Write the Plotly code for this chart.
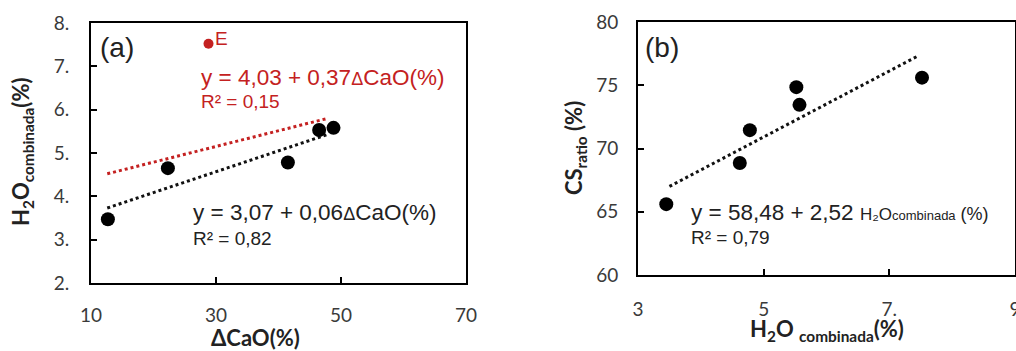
import plotly.graph_objects as go

# ---- data panel (a)
dcao = [12.7, 22.3, 41.5, 46.5, 48.8]
h2o_a = [3.47, 4.65, 4.78, 5.53, 5.58]
dcao_E = [28.8]
h2o_E = [7.52]
fit_black_x = [12.6, 47.9]
fit_black_y = [3.73, 5.43]
fit_red_x = [12.6, 47.9]
fit_red_y = [4.52, 5.80]
xa_ticks = [10, 30, 50, 70]
ya_ticks = [2, 3, 4, 5, 6, 7, 8]
ya_ticktext = ["2.", "3.", "4.", "5.", "6.", "7.", "8."]

# ---- data panel (b)
h2o_b = [3.45, 4.62, 4.78, 5.52, 5.57, 7.52]
cs_ratio = [65.6, 68.85, 71.45, 74.85, 73.45, 75.6]
fit_b_x = [3.5, 7.45]
fit_b_y = [67.0, 77.3]
xb_ticks = [3, 5, 7, 9]
xb_ticktext = ["3", "5", "7.", "9"]
yb_ticks = [60, 65, 70, 75, 80]

W, H = 1016, 351
RED = "#C42121"
TICKFONT = dict(family="Lato, Open Sans, sans-serif", size=19, color="#3a3a3a")
EQFONT = "Liberation Sans, Arial, sans-serif"

fig = go.Figure()

# panel a
fig.add_trace(go.Scatter(x=fit_red_x, y=fit_red_y, mode="lines",
                         line=dict(color=RED, width=3, dash="dot"), xaxis="x", yaxis="y", showlegend=False))
fig.add_trace(go.Scatter(x=fit_black_x, y=fit_black_y, mode="lines",
                         line=dict(color="#111", width=3, dash="dot"), xaxis="x", yaxis="y", showlegend=False))
fig.add_trace(go.Scatter(x=dcao, y=h2o_a, mode="markers",
                         marker=dict(color="black", size=14), xaxis="x", yaxis="y", showlegend=False))
fig.add_trace(go.Scatter(x=dcao_E, y=h2o_E, mode="markers",
                         marker=dict(color=RED, size=10), xaxis="x", yaxis="y", showlegend=False))

# panel b
fig.add_trace(go.Scatter(x=fit_b_x, y=fit_b_y, mode="lines",
                         line=dict(color="#111", width=3, dash="dot"), xaxis="x2", yaxis="y2", showlegend=False))
fig.add_trace(go.Scatter(x=h2o_b, y=cs_ratio, mode="markers",
                         marker=dict(color="black", size=14), xaxis="x2", yaxis="y2", showlegend=False))

axis_common = dict(showline=True, linecolor="black", linewidth=2, mirror=True,
                   ticks="inside", ticklen=6, tickwidth=2, tickcolor="black", automargin=False,
                   ticklabeloverflow="allow",
                   showgrid=False, zeroline=False, tickfont=TICKFONT, fixedrange=True)

fig.update_layout(
    width=W, height=H, margin=dict(l=0, r=0, t=0, b=0, autoexpand=False),
    paper_bgcolor="white", plot_bgcolor="white",
    xaxis=dict(domain=[91 / W, 466 / W], range=[10, 70], tickvals=xa_ticks,
               ticklabelstandoff=14, anchor="y", **axis_common),
    yaxis=dict(domain=[1 - 283 / H, 1 - 23 / H], range=[2, 8], tickvals=ya_ticks,
               ticktext=ya_ticktext, ticklabelstandoff=16, anchor="x", **axis_common),
    xaxis2=dict(domain=[638 / W, 1015 / W], range=[3, 9], tickvals=xb_ticks,
                ticktext=xb_ticktext, ticklabelstandoff=16, anchor="y2", **axis_common),
    yaxis2=dict(domain=[1 - 275 / H, 1 - 22 / H], range=[60, 80], tickvals=yb_ticks,
                ticklabelstandoff=14, anchor="x2", **axis_common),
)

ann = []
# panel labels
ann.append(dict(x=98 / W, y=1 - 48 / H, xref="paper", yref="paper", text="(a)", showarrow=False,
                xanchor="left", yanchor="middle", font=dict(family=EQFONT, size=28, color="#222")))
ann.append(dict(x=643 / W, y=1 - 48 / H, xref="paper", yref="paper", text="(b)", showarrow=False,
                xanchor="left", yanchor="middle", font=dict(family=EQFONT, size=28, color="#222")))
# E label
ann.append(dict(x=dcao_E[0], y=h2o_E[0], xref="x", yref="y", text="E", showarrow=False,
                xanchor="left", yanchor="middle", xshift=4, yshift=5,
                font=dict(family=EQFONT, size=19, color=RED)))
# red equation
ann.append(dict(x=199 / W, y=1 - 77 / H, xref="paper", yref="paper",
                text="y = 4,03 + 0,37<span style='font-size:18px'>Δ</span>CaO(%)", showarrow=False,
                xanchor="left", yanchor="middle", font=dict(family=EQFONT, size=22.5, color=RED)))
ann.append(dict(x=199 / W, y=1 - 101 / H, xref="paper", yref="paper", text="R² = 0,15", showarrow=False,
                xanchor="left", yanchor="middle", font=dict(family=EQFONT, size=19, color=RED)))
# black equation (a)
ann.append(dict(x=191 / W, y=1 - 213 / H, xref="paper", yref="paper",
                text="y = 3,07 + 0,06<span style='font-size:18px'>Δ</span>CaO(%)", showarrow=False,
                xanchor="left", yanchor="middle", font=dict(family=EQFONT, size=22.5, color="#222")))
ann.append(dict(x=191 / W, y=1 - 238 / H, xref="paper", yref="paper", text="R² = 0,82", showarrow=False,
                xanchor="left", yanchor="middle", font=dict(family=EQFONT, size=19, color="#222")))
# equation (b)
ann.append(dict(x=689 / W, y=1 - 212 / H, xref="paper", yref="paper",
                text="y = 58,48 + 2,52 <span style='font-size:17px'>H₂O</span>"
                     "<span style='font-size:13px'>combinada</span><span style='font-size:18px'> (%)</span>",
                showarrow=False, xanchor="left", yanchor="middle",
                font=dict(family=EQFONT, size=22.5, color="#222")))
ann.append(dict(x=689 / W, y=1 - 237 / H, xref="paper", yref="paper", text="R² = 0,79", showarrow=False,
                xanchor="left", yanchor="middle", font=dict(family=EQFONT, size=19, color="#222")))

TITLEFONT = dict(family="Lato, Open Sans, sans-serif", size=22, color="#222", weight="bold")
# axis titles
ann.append(dict(x=255 / W, y=1 - 337 / H, xref="paper", yref="paper", text="ΔCaO(%)", showarrow=False,
                xanchor="center", yanchor="middle", font=TITLEFONT))
ann.append(dict(x=22 / W, y=1 - 152 / H, xref="paper", yref="paper",
                text="H<sub>2</sub>O<sub>combinada</sub>(%)", textangle=-90, showarrow=False,
                xanchor="center", yanchor="middle", font=TITLEFONT))
ann.append(dict(x=827 / W, y=1 - 330 / H, xref="paper", yref="paper",
                text="H<sub>2</sub>O <sub>combinada</sub>(%)", showarrow=False,
                xanchor="center", yanchor="middle", font=TITLEFONT))
ann.append(dict(x=575 / W, y=1 - 148 / H, xref="paper", yref="paper",
                text="CS<sub>ratio</sub> (%)", textangle=-90, showarrow=False,
                xanchor="center", yanchor="middle", font=TITLEFONT))

fig.update_layout(annotations=ann)
fig.write_html("out.html")
